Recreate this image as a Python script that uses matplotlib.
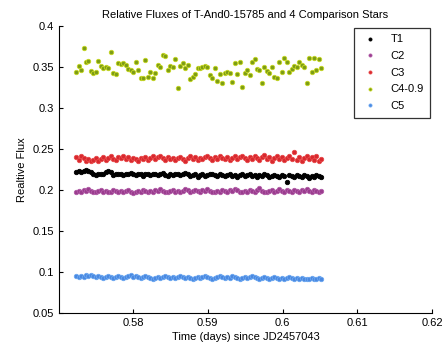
import numpy as np
import matplotlib
matplotlib.use("Agg")
import matplotlib.pyplot as plt

plt.rcParams['font.family'] = ['Liberation Sans', 'DejaVu Sans']

# observation window (days since JD2457043), regular cadence
t_start, t_end, n_obs = 0.5724, 0.6052, 100
time = np.linspace(t_start, t_end, n_obs)

t1 = [0.222, 0.223, 0.222, 0.223, 0.224, 0.223, 0.222, 0.219, 0.218, 0.220,
      0.219, 0.220, 0.222, 0.223, 0.222, 0.218, 0.219, 0.220, 0.219, 0.218,
      0.220, 0.219, 0.221, 0.219, 0.218, 0.220, 0.219, 0.217, 0.219, 0.220,
      0.218, 0.219, 0.220, 0.218, 0.219, 0.221, 0.218, 0.217, 0.219, 0.218,
      0.220, 0.219, 0.218, 0.220, 0.221, 0.219, 0.217, 0.218, 0.219, 0.216,
      0.218, 0.219, 0.217, 0.218, 0.219, 0.220, 0.218, 0.217, 0.219, 0.218,
      0.217, 0.218, 0.219, 0.217, 0.218, 0.216, 0.218, 0.219, 0.217, 0.218,
      0.219, 0.217, 0.218, 0.216, 0.218, 0.217, 0.219, 0.218, 0.216, 0.217,
      0.218, 0.217, 0.216, 0.218, 0.217, 0.210, 0.218, 0.217, 0.216, 0.218,
      0.217, 0.216, 0.218, 0.217, 0.215, 0.217, 0.216, 0.218, 0.217, 0.216]

c2 = [0.197, 0.199, 0.198, 0.200, 0.199, 0.201, 0.199, 0.198, 0.197, 0.199,
      0.200, 0.198, 0.199, 0.197, 0.198, 0.200, 0.199, 0.198, 0.199, 0.198,
      0.199, 0.200, 0.198, 0.196, 0.198, 0.199, 0.198, 0.200, 0.199, 0.198,
      0.199, 0.198, 0.200, 0.199, 0.201, 0.199, 0.198, 0.197, 0.199, 0.200,
      0.198, 0.199, 0.197, 0.199, 0.201, 0.200, 0.198, 0.199, 0.200, 0.199,
      0.198, 0.200, 0.199, 0.201, 0.199, 0.198, 0.197, 0.199, 0.198, 0.200,
      0.199, 0.198, 0.200, 0.199, 0.201, 0.200, 0.198, 0.197, 0.199, 0.198,
      0.200, 0.199, 0.198, 0.200, 0.202, 0.199, 0.198, 0.197, 0.199, 0.200,
      0.198, 0.199, 0.201, 0.199, 0.198, 0.200, 0.199, 0.198, 0.200, 0.199,
      0.198, 0.200, 0.199, 0.201, 0.199, 0.198, 0.200, 0.199, 0.198, 0.199]

c3 = [0.240, 0.237, 0.241, 0.239, 0.236, 0.238, 0.235, 0.237, 0.239, 0.236,
      0.238, 0.240, 0.237, 0.239, 0.241, 0.238, 0.237, 0.240, 0.239, 0.241,
      0.238, 0.240, 0.237, 0.239, 0.238, 0.236, 0.239, 0.238, 0.240, 0.237,
      0.239, 0.241, 0.238, 0.240, 0.242, 0.239, 0.237, 0.240, 0.238, 0.239,
      0.237, 0.239, 0.240, 0.238, 0.236, 0.239, 0.241, 0.238, 0.240, 0.237,
      0.239, 0.238, 0.240, 0.242, 0.239, 0.237, 0.240, 0.238, 0.241, 0.239,
      0.238, 0.240, 0.237, 0.239, 0.241, 0.238, 0.240, 0.242, 0.239, 0.237,
      0.240, 0.238, 0.241, 0.239, 0.237, 0.240, 0.243, 0.238, 0.240, 0.236,
      0.239, 0.241, 0.238, 0.240, 0.237, 0.239, 0.242, 0.238, 0.246, 0.237,
      0.240, 0.236, 0.239, 0.241, 0.238, 0.240, 0.237, 0.241, 0.236, 0.238]

# C4 already shifted by -0.9
c4 = [0.344, 0.351, 0.347, 0.373, 0.356, 0.357, 0.345, 0.343, 0.344, 0.358,
      0.351, 0.349, 0.350, 0.349, 0.368, 0.343, 0.342, 0.355, 0.354, 0.355,
      0.352, 0.348, 0.346, 0.344, 0.356, 0.346, 0.337, 0.337, 0.359, 0.338,
      0.344, 0.337, 0.343, 0.352, 0.350, 0.365, 0.364, 0.346, 0.351, 0.350,
      0.360, 0.324, 0.351, 0.355, 0.349, 0.353, 0.335, 0.338, 0.341, 0.349,
      0.349, 0.350, 0.351, 0.350, 0.340, 0.337, 0.349, 0.333, 0.342, 0.330,
      0.343, 0.344, 0.343, 0.332, 0.355, 0.341, 0.356, 0.326, 0.343, 0.346,
      0.340, 0.356, 0.360, 0.348, 0.346, 0.330, 0.350, 0.345, 0.343, 0.350,
      0.338, 0.337, 0.356, 0.344, 0.361, 0.356, 0.344, 0.348, 0.351, 0.350,
      0.356, 0.353, 0.350, 0.330, 0.361, 0.344, 0.361, 0.347, 0.360, 0.349]

c5 = [0.095, 0.094, 0.095, 0.094, 0.096, 0.095, 0.096, 0.095, 0.094, 0.095,
      0.094, 0.093, 0.094, 0.095, 0.094, 0.093, 0.094, 0.095, 0.094, 0.093,
      0.094, 0.095, 0.096, 0.094, 0.095, 0.094, 0.093, 0.094, 0.095, 0.094,
      0.093, 0.092, 0.093, 0.094, 0.093, 0.094, 0.095, 0.094, 0.093, 0.094,
      0.093, 0.094, 0.095, 0.094, 0.093, 0.094, 0.093, 0.092, 0.093, 0.094,
      0.093, 0.094, 0.095, 0.094, 0.093, 0.092, 0.093, 0.094, 0.095, 0.094,
      0.093, 0.094, 0.093, 0.095, 0.094, 0.093, 0.092, 0.093, 0.094, 0.093,
      0.094, 0.095, 0.094, 0.093, 0.092, 0.093, 0.094, 0.093, 0.092, 0.093,
      0.094, 0.093, 0.092, 0.093, 0.092, 0.093, 0.094, 0.093, 0.092, 0.093,
      0.092, 0.093, 0.092, 0.091, 0.092, 0.093, 0.092, 0.091, 0.093, 0.092]

labels = ['T1', 'C2', 'C3', 'C4-0.9', 'C5']
colors = ['black', '#9a3c8e', '#d8282e', '#7c9c16', '#4a88e0']
edges = ['black', '#b05aa6', '#e84848', '#c6d620', '#6aa6f0']

xticks = [0.58, 0.59, 0.60, 0.61, 0.62]
xtick_labels = ['0.58', '0.59', '0.6', '0.61', '0.62']
yticks = [0.05, 0.1, 0.15, 0.2, 0.25, 0.3, 0.35, 0.4]
ytick_labels = ['0.05', '0.1', '0.15', '0.2', '0.25', '0.3', '0.35', '0.4']


def main():
    fig = plt.figure(figsize=(4.46, 3.48), dpi=100)
    ax = fig.add_axes([0.132, 0.1006, 0.837, 0.8244])

    for ys, lab, c, e in zip([t1, c2, c3, c4, c5], labels, colors, edges):
        ax.plot(time, ys, ls='none', marker='o', ms=3.2, mfc=c, mec=e,
                mew=0.6, label=lab)

    ax.set_xlim(0.5701, 0.62)
    ax.set_ylim(0.05, 0.4)
    ax.set_xticks(xticks)
    ax.set_xticklabels(xtick_labels)
    ax.set_yticks(yticks)
    ax.set_yticklabels(ytick_labels)
    ax.tick_params(direction='in', length=3, labelsize=8, width=0.8)
    ax.spines['top'].set_visible(False)
    ax.spines['right'].set_visible(False)

    ax.set_title('Relative Fluxes of T-And0-15785 and 4 Comparison Stars',
                 fontsize=8, pad=6)
    ax.set_xlabel('Time (days) since JD2457043', fontsize=8, labelpad=3)
    ax.set_ylabel('Realtive Flux', fontsize=8, labelpad=4)

    leg = ax.legend(loc='upper right', bbox_to_anchor=(0.9995, 1.0),
                    borderaxespad=0.15, fontsize=8, frameon=True,
                    fancybox=False, borderpad=0.6, labelspacing=0.6,
                    handlelength=1.8, handletextpad=0.9, markerscale=0.7)
    leg.get_frame().set_edgecolor('black')
    leg.get_frame().set_linewidth(0.9)

    fig.savefig('out.png', dpi=100)


if __name__ == "__main__":
    main()
